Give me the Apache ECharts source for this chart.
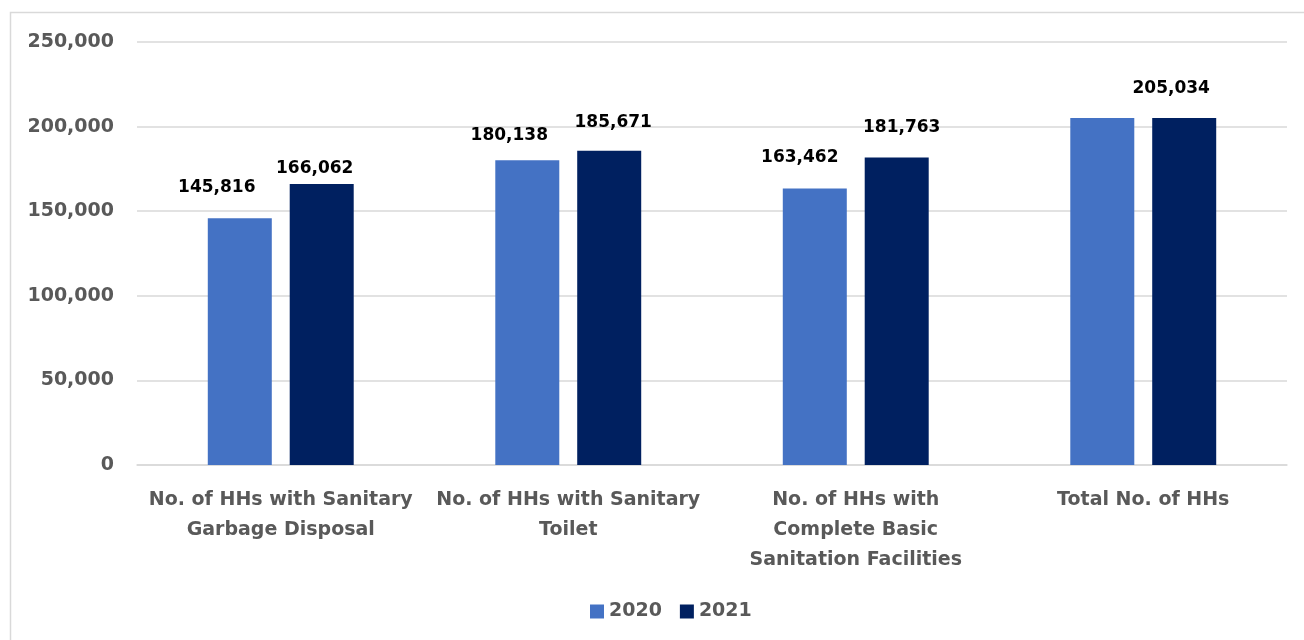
<!DOCTYPE html>
<html>
<head>
<meta charset="utf-8">
<script src="https://cdn.jsdelivr.net/npm/echarts@6/dist/echarts.min.js"></script>
<style>html,body{margin:0;padding:0;background:#fff}#c{width:1304px;height:640px}</style>
</head>
<body>
<div id="c"></div>
<script>
const categories = [
  "No. of HHs with Sanitary\nGarbage Disposal",
  "No. of HHs with Sanitary\nToilet",
  "No. of HHs with\nComplete Basic\nSanitation Facilities",
  "Total No. of HHs"
];
const values2020 = [145816, 180138, 163462, 205034];
const values2021 = [166062, 185671, 181763, 205034];
const yTicks = [0, 50000, 100000, 150000, 200000, 250000];

const FONT = "'DejaVu Sans', sans-serif";
const fmt = v => v.toLocaleString('en-US');

// label placement tweaks (style only)
const off2020 = [[-23, -17], [-18, -11], [-15, -17], null];
const off2021 = [[-7, -2], [4, -15], [5, -16], [-13, -16]];

function mkData(vals, offs) {
  return vals.map((v, i) => {
    const o = offs[i];
    return o ? { value: v, label: { offset: o } } : { value: v, label: { show: false } };
  });
}

const chart = echarts.init(document.getElementById('c'));
chart.setOption({
  animation: false,
  textStyle: { fontFamily: FONT },
  graphic: [{
    type: 'rect', shape: { x: 10.5, y: 12.5, width: 1310, height: 640 },
    style: { fill: 'none', stroke: '#d9d9d9', lineWidth: 1.5 }, silent: true
  }],
  grid: { left: 137, right: 17, top: 42, bottom: 175 },
  legend: {
    top: 597, left: 585, itemWidth: 14, itemHeight: 14, itemGap: 18, icon: 'rect',
    textStyle: { fontFamily: FONT, fontSize: 19, fontWeight: 'bold', color: '#595959' },
    data: ['2020', '2021']
  },
  xAxis: {
    type: 'category', data: categories,
    axisLine: { lineStyle: { color: '#d9d9d9', width: 1.5 } },
    axisTick: { show: false },
    axisLabel: { interval: 0, fontFamily: FONT, fontSize: 19, fontWeight: 'bold', color: '#595959', lineHeight: 30, margin: 20 }
  },
  yAxis: {
    type: 'value', min: 0, max: 250000, interval: 50000,
    axisLine: { show: false }, axisTick: { show: false },
    splitLine: { lineStyle: { color: '#d9d9d9', width: 1.5 } },
    axisLabel: {
      fontFamily: FONT, fontSize: 19, fontWeight: 'bold', color: '#595959', margin: 23,
      formatter: v => yTicks.includes(v) ? fmt(v) : ''
    }
  },
  series: [
    {
      name: '2020', type: 'bar', data: mkData(values2020, off2020),
      barWidth: 64, barGap: '28%',
      itemStyle: { color: '#4472C4' },
      label: { show: true, position: 'top', fontFamily: FONT, fontSize: 17, fontWeight: 'bold', color: '#000', formatter: p => fmt(p.value) }
    },
    {
      name: '2021', type: 'bar', data: mkData(values2021, off2021),
      barWidth: 64,
      itemStyle: { color: '#002060' },
      label: { show: true, position: 'top', fontFamily: FONT, fontSize: 17, fontWeight: 'bold', color: '#000', formatter: p => fmt(p.value) }
    }
  ]
});
</script>
</body>
</html>
